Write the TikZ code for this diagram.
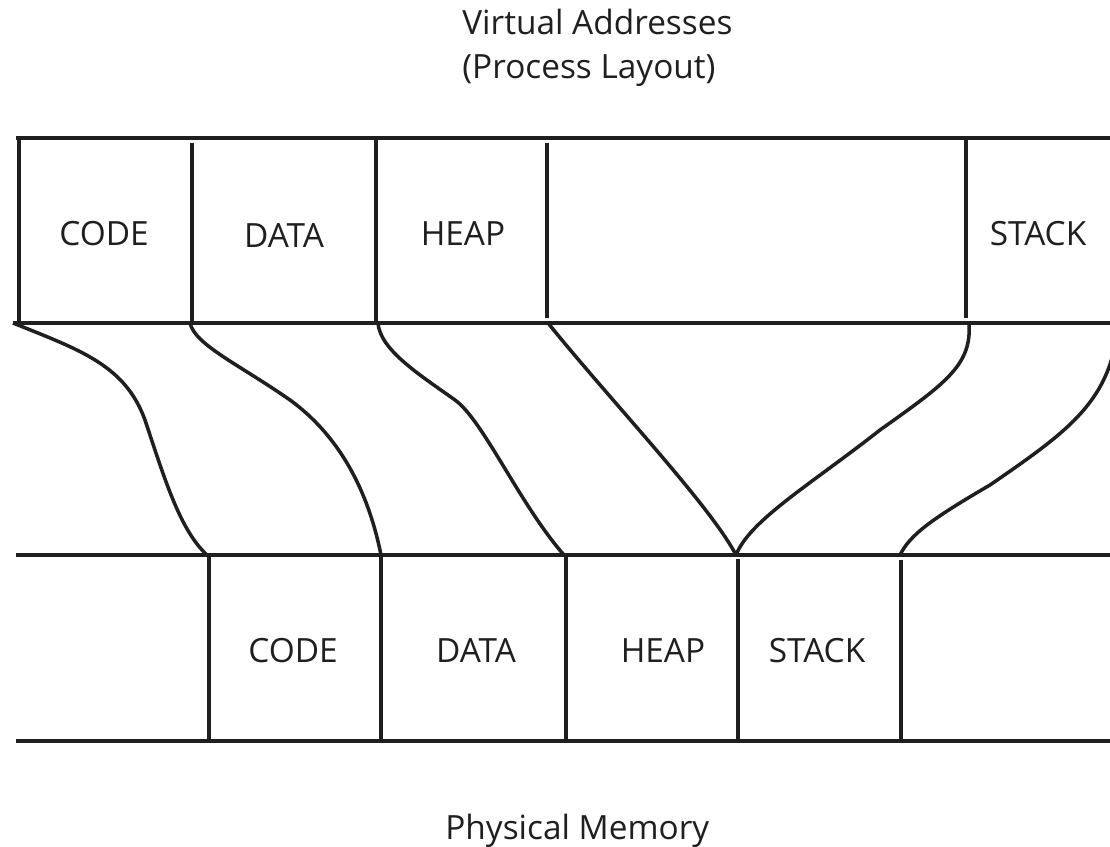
\documentclass[tikz,border=0pt]{standalone}
\usepackage{fontspec}
\setmainfont{Open Sans}
\begin{document}
\begin{tikzpicture}[x=0.02cm,y=-0.02cm,
  wall/.style={line width=2.3pt,line cap=butt,color=black!88},
  maparc/.style={line width=2pt,color=black!88},
  lbl/.style={font=\fontsize{19}{23}\selectfont,inner sep=0pt,text=black!88},
  ttl/.style={font=\fontsize{19}{23}\selectfont,inner sep=0pt,anchor=base west,text=black!88}]
\useasboundingbox (0,0) rectangle (1110,847);
\clip (0,0) rectangle (1110,847);
% titles
\node[ttl] (vt1) at (462,35) {Virtual Addresses};
\node[ttl] (vt2) at (462,79) {(Process Layout)};
\node[ttl] (pm) at (445,840) {Physical Memory};
% top (virtual) row
\coordinate (vTL) at (16,138); \coordinate (vTR) at (1115,138);
\coordinate (vBL) at (13,323); \coordinate (vBR) at (1115,323);
\draw[wall] (vTL) -- (vTR);
\draw[wall] (vBL) -- (vBR);
\coordinate (va1) at (19,138);  \coordinate (vb1) at (19,323);
\coordinate (va2) at (192,143); \coordinate (vb2) at (192,323);
\coordinate (va3) at (376,138); \coordinate (vb3) at (376,323);
\coordinate (va4) at (547,143); \coordinate (vb4) at (547,318);
\coordinate (va5) at (966,140); \coordinate (vb5) at (966,318);
\foreach \i in {1,...,5} {\draw[wall] (va\i) -- (vb\i);}
\node[lbl] (vcode)  at (104,234) {CODE};
\node[lbl] (vdata)  at (284,236) {DATA};
\node[lbl] (vheap)  at (463,234) {HEAP};
\node[lbl] (vstack) at (1038,234) {STACK};
% bottom (physical) row
\coordinate (pTL) at (16,555); \coordinate (pTR) at (1115,555);
\coordinate (pBL) at (16,741); \coordinate (pBR) at (1115,741);
\draw[wall] (pTL) -- (pTR);
\draw[wall] (pBL) -- (pBR);
\coordinate (pa1) at (209,555); \coordinate (pb1) at (209,741);
\coordinate (pa2) at (381,555); \coordinate (pb2) at (381,741);
\coordinate (pa3) at (566,557); \coordinate (pb3) at (566,741);
\coordinate (pa4) at (738,559); \coordinate (pb4) at (738,741);
\coordinate (pa5) at (901,560); \coordinate (pb5) at (901,741);
\foreach \i in {1,...,5} {\draw[wall] (pa\i) -- (pb\i);}
\node[lbl] (pcode)  at (293,651) {CODE};
\node[lbl] (pdata)  at (476,651) {DATA};
\node[lbl] (pheap)  at (663,651) {HEAP};
\node[lbl] (pstack) at (817,651) {STACK};
% mapping curves
\coordinate (s1) at (13,323);  \coordinate (e1) at (207,555);
\coordinate (s2) at (190,323); \coordinate (e2) at (381,555);
\coordinate (s3) at (378,323); \coordinate (e3) at (564,555);
\coordinate (s4) at (548,323); \coordinate (e4) at (736,555);
\coordinate (s5) at (969,323); \coordinate (e5) at (736,555);
\coordinate (s6) at (1118,323); \coordinate (e6) at (900,555);
\draw[maparc] (s1) .. controls (80,350) and (125,365) .. (145,420)
  .. controls (165,480) and (180,530) .. (e1);
\draw[maparc] (s2) .. controls (195,345) and (240,365) .. (290,400)
  .. controls (345,440) and (370,500) .. (e2);
\draw[maparc] (s3) .. controls (380,350) and (420,375) .. (455,400)
  .. controls (483,420) and (520,505) .. (e3);
\draw[maparc] (s4) .. controls (610,400) and (710,505) .. (e4);
\draw[maparc] (s5) .. controls (972,365) and (946,383) .. (880,430)
  .. controls (810,485) and (750,520) .. (e5);
\draw[maparc] (s6) .. controls (1112,400) and (1070,430) .. (990,485)
  .. controls (930,520) and (910,535) .. (e6);
\end{tikzpicture}
\end{document}
